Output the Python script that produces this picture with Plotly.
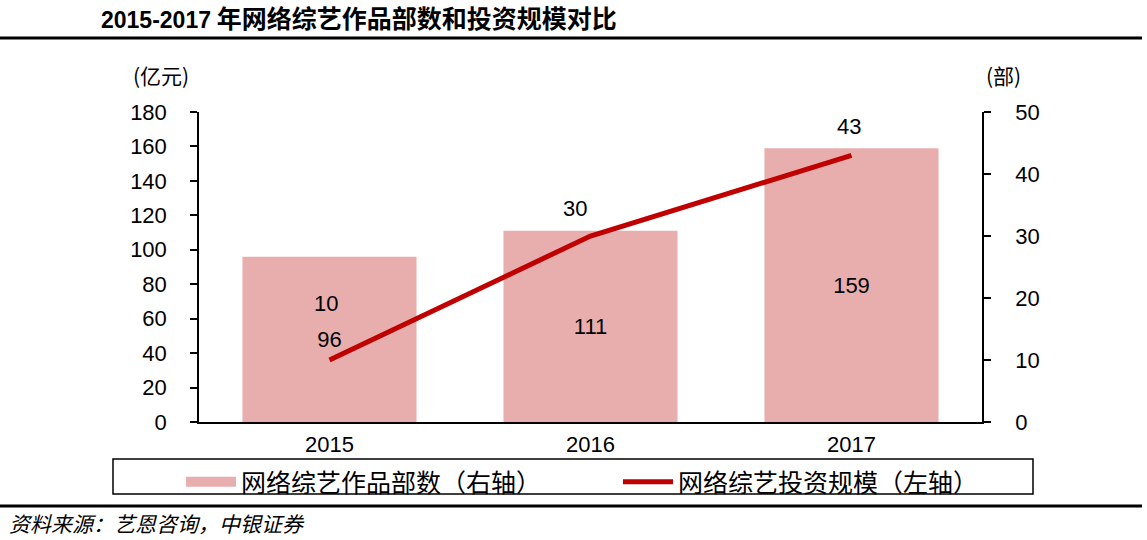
import plotly.graph_objects as go

years = ["2015", "2016", "2017"]
works = [96, 111, 159]          # 网络综艺作品部数
invest = [10, 30, 43]           # 网络综艺投资规模
left_ticks = [0, 20, 40, 60, 80, 100, 120, 140, 160, 180]
right_ticks = [0, 10, 20, 30, 40, 50]

num_font = "Liberation Sans, Arial, sans-serif"
cjk_font = "Noto Sans CJK SC, sans-serif"
BAR_COLOR = "#E8AEAE"
LINE_COLOR = "#C00000"

W, H = 1147, 540
ML, MR, MT, MB = 199, 165, 112, 118
pw = W - ML - MR
ph = H - MT - MB


def px(x):
    return (x - ML) / pw


def py(y):
    return (H - MB - y) / ph


fig = go.Figure()
fig.add_trace(go.Bar(
    x=years, y=works, name="网络综艺作品部数（右轴）", showlegend=False,
    marker=dict(color=BAR_COLOR, line=dict(width=0)),
    text=[str(v) for v in works], textposition="inside", insidetextanchor="middle",
    textfont=dict(family=num_font, size=22, color="#000000"),
    yaxis="y",
))
# legend entry for bars (wide swatch like the reference)
fig.add_trace(go.Scatter(
    x=[None], y=[None], name="网络综艺作品部数（右轴）", mode="lines",
    line=dict(color=BAR_COLOR, width=13), yaxis="y", hoverinfo="skip",
))
fig.add_trace(go.Scatter(
    x=years, y=invest, name="网络综艺投资规模（左轴）",
    mode="lines", line=dict(color=LINE_COLOR, width=5),
    yaxis="y2",
))

# line value labels
shifts = [(-4, 57), (-16, 28), (-3, 29)]
for i, (yv, (dx, dy)) in enumerate(zip(invest, shifts)):
    fig.add_annotation(x=i, y=yv, xref="x", yref="y2", text=str(yv), showarrow=False,
                       xshift=dx, yshift=dy, font=dict(family=num_font, size=22, color="#000000"))

fig.update_layout(
    width=W, height=H,
    margin=dict(l=ML, r=MR, t=MT, b=MB),
    paper_bgcolor="white", plot_bgcolor="white",
    bargap=0.333,
    showlegend=True,
    legend=dict(orientation="h", x=px(181), xanchor="left", y=py(459), yanchor="top",
                bgcolor="rgba(0,0,0,0)", borderwidth=0,
                font=dict(family=cjk_font, size=25, color="#000000"),
                entrywidth=372, traceorder="normal", itemwidth=50),
    xaxis=dict(type="category", range=[-0.5, 2.5], showline=True, linecolor="#000000", linewidth=1.5,
               ticks="", showgrid=False, tickfont=dict(family=num_font, size=22, color="#000000"),
               ticklabelstandoff=2),
    yaxis=dict(range=[0, 180], tickvals=left_ticks, showline=True, linecolor="#000000", linewidth=1.5,
               ticks="outside", ticklen=7, tickcolor="#000000", tickwidth=1.5, showgrid=False, zeroline=False,
               tickfont=dict(family=num_font, size=22, color="#000000"), ticklabelstandoff=19),
    yaxis2=dict(range=[0, 50], tickvals=right_ticks, overlaying="y", side="right", showline=True,
                linecolor="#000000", linewidth=1.5, ticks="outside", ticklen=7, tickcolor="#000000",
                tickwidth=1.5, showgrid=False, zeroline=False,
                tickfont=dict(family=num_font, size=22, color="#000000"), ticklabelstandoff=20),
)

# title
fig.add_annotation(xref="paper", yref="paper", x=px(99), y=py(17), xanchor="left", yanchor="middle",
                   text="<b><span style=\"font-family:Liberation Sans;font-size:23px\">2015-2017</span> 年网络综艺作品部数和投资规模对比</b>",
                   showarrow=False,
                   font=dict(family=cjk_font, size=25, color="#000000"))
# units
fig.add_annotation(xref="paper", yref="paper", x=px(161), y=py(75), xanchor="center", yanchor="middle",
                   text="(亿元)", showarrow=False,
                   font=dict(family=cjk_font, size=21, color="#000000"))
fig.add_annotation(xref="paper", yref="paper", x=px(1003), y=py(75), xanchor="center", yanchor="middle",
                   text="(部)", showarrow=False,
                   font=dict(family=cjk_font, size=21, color="#000000"))
# source
fig.add_annotation(xref="paper", yref="paper", x=px(7), y=py(523), xanchor="left", yanchor="middle",
                   text="<i>资料来源：艺恩咨询，中银证券</i>", showarrow=False,
                   font=dict(family=cjk_font, size=21, color="#000000"))

# rules and legend box
fig.add_shape(type="line", xref="paper", yref="paper", x0=px(0), x1=px(1142), y0=py(38), y1=py(38),
              line=dict(color="#000000", width=3))
fig.add_shape(type="line", xref="paper", yref="paper", x0=px(0), x1=px(1142), y0=py(506), y1=py(506),
              line=dict(color="#000000", width=3))
fig.add_shape(type="rect", xref="paper", yref="paper", x0=px(113), x1=px(1033), y0=py(459), y1=py(494),
              line=dict(color="#000000", width=1.5), fillcolor="rgba(0,0,0,0)")

fig.write_html("out.html", config={"displayModeBar": False},
               post_script="document.body.style.margin='0px';")
